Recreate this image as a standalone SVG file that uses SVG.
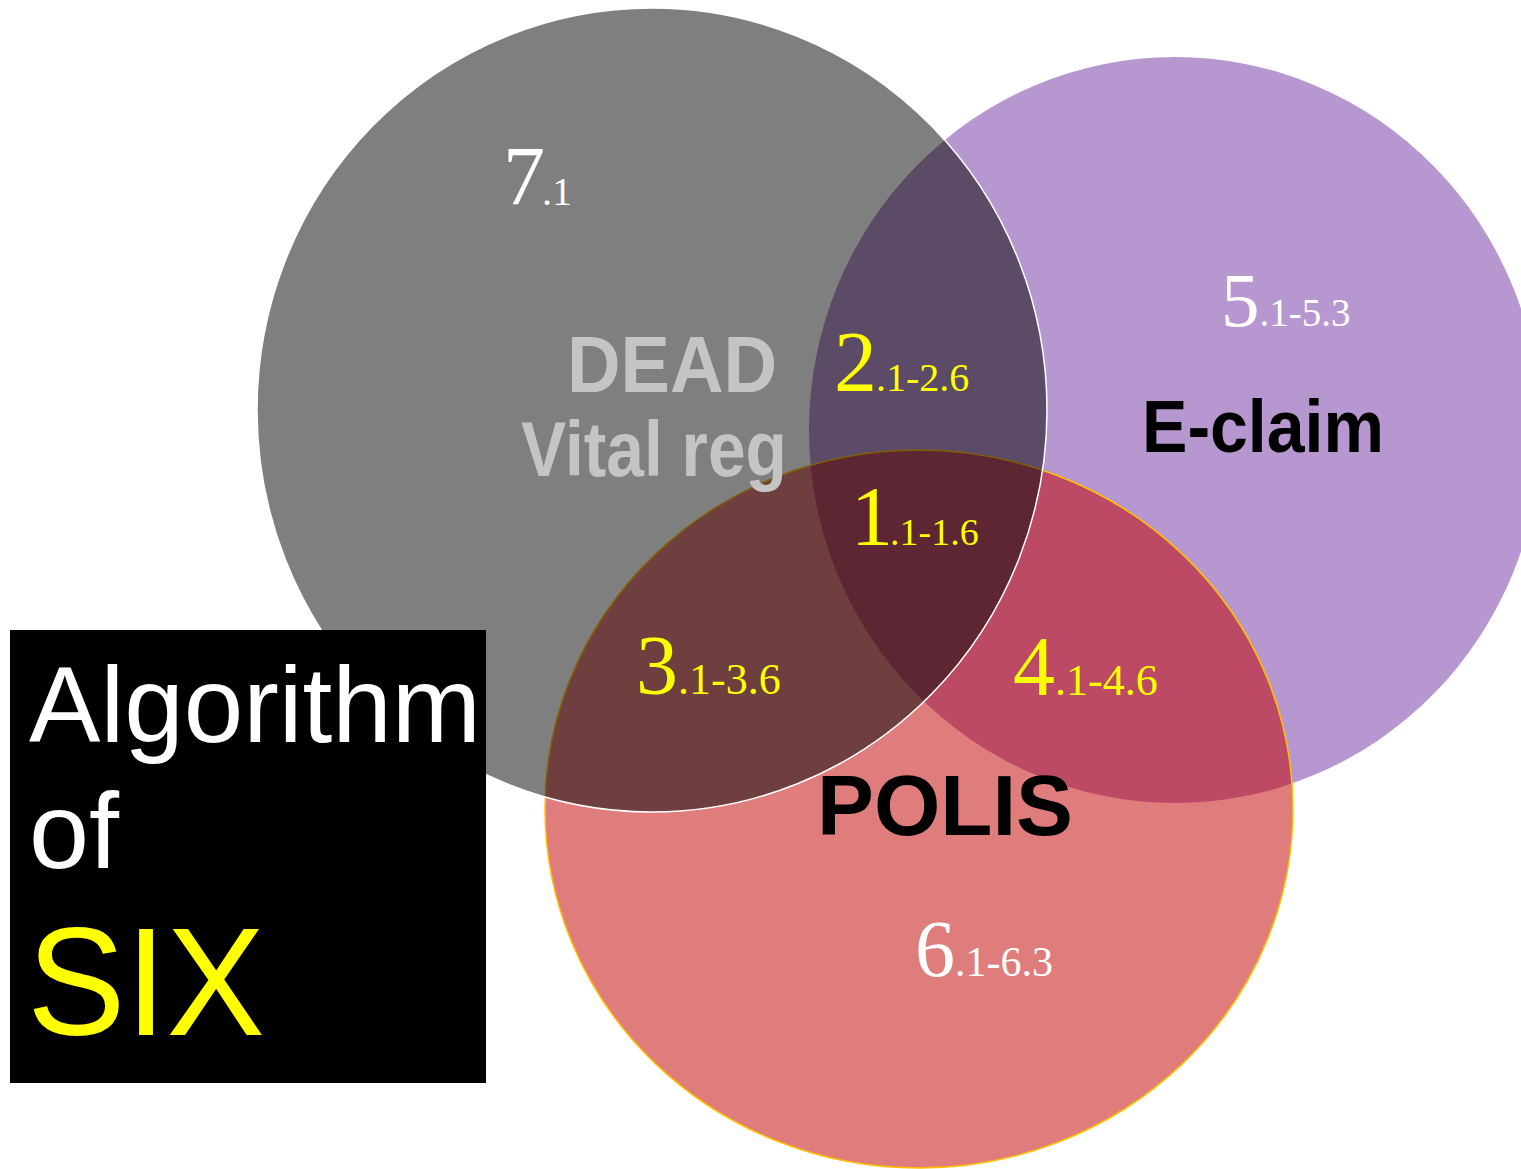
<svg xmlns="http://www.w3.org/2000/svg" width="1521" height="1169" viewBox="0 0 1521 1169">
<style>
.num{font-family:"Liberation Serif","Times New Roman",serif;}
.y{fill:#FFFF00;}
.w{fill:#FFFFFF;}
.lbl{font-family:"Liberation Sans",Arial,sans-serif;font-weight:bold;}
.title{font-family:"Liberation Sans",Arial,sans-serif;}
</style>
<rect width="1521" height="1169" fill="#FFFFFF"/>
<g id="eclaim">
<ellipse cx="1175" cy="430" rx="366" ry="373" fill="#7030A0" fill-opacity="0.5"/>
</g>
<g id="polis">
<ellipse cx="919" cy="809" rx="374" ry="359" fill="#C00000" fill-opacity="0.51" stroke="#FFC000" stroke-width="1.5"/>
</g>
<g id="dead">
<ellipse cx="652" cy="410" rx="395" ry="402" fill="#000000" fill-opacity="0.5" stroke="#FFFFFF" stroke-width="1.5"/>
</g>
<g id="connectors"></g>
<g id="labels">
<text class="lbl" x="567" y="392" font-size="80" fill="#C4C4C4" textLength="210" lengthAdjust="spacingAndGlyphs">DEAD</text>
<text class="lbl" x="521" y="476" font-size="78" fill="#C4C4C4" textLength="266" lengthAdjust="spacingAndGlyphs">Vital reg</text>
<text class="lbl" x="1142" y="452" font-size="75" fill="#000000" textLength="242" lengthAdjust="spacingAndGlyphs">E-claim</text>
<text class="lbl" x="817" y="835" font-size="86" fill="#000000" textLength="256" lengthAdjust="spacingAndGlyphs">POLIS</text>
</g>
<g id="region-7">
<text class="num w" x="503" y="205" font-size="84">7<tspan font-size="40" dx="-3">.1</tspan></text>
</g>
<g id="region-2">
<text class="num y" x="834" y="391" font-size="86">2<tspan font-size="40" dx="-1">.1-2.6</tspan></text>
</g>
<g id="region-1">
<text class="num y" x="851" y="545" font-size="84">1<tspan font-size="38" dx="-3">.1-1.6</tspan></text>
</g>
<g id="region-3">
<text class="num y" x="636" y="694" font-size="84">3<tspan font-size="44">.1-3.6</tspan></text>
</g>
<g id="region-4">
<text class="num y" x="1013" y="695" font-size="84">4<tspan font-size="44">.1-4.6</tspan></text>
</g>
<g id="region-5">
<text class="num w" x="1221" y="326" font-size="77">5<tspan font-size="39">.1-5.3</tspan></text>
</g>
<g id="region-6">
<text class="num w" x="915" y="976" font-size="80">6<tspan font-size="42">.1-6.3</tspan></text>
</g>
<g id="title-box">
<rect x="10" y="630" width="476" height="453" fill="#000000"/>
<text class="title" x="29" y="742" font-size="108" fill="#FFFFFF" textLength="452" lengthAdjust="spacingAndGlyphs">Algorithm</text>
<text class="title" x="29" y="868" font-size="108" fill="#FFFFFF">of</text>
<text class="title" x="27" y="1035" font-size="154" fill="#FFFF00" textLength="238" lengthAdjust="spacingAndGlyphs">SIX</text>
</g>
</svg>
